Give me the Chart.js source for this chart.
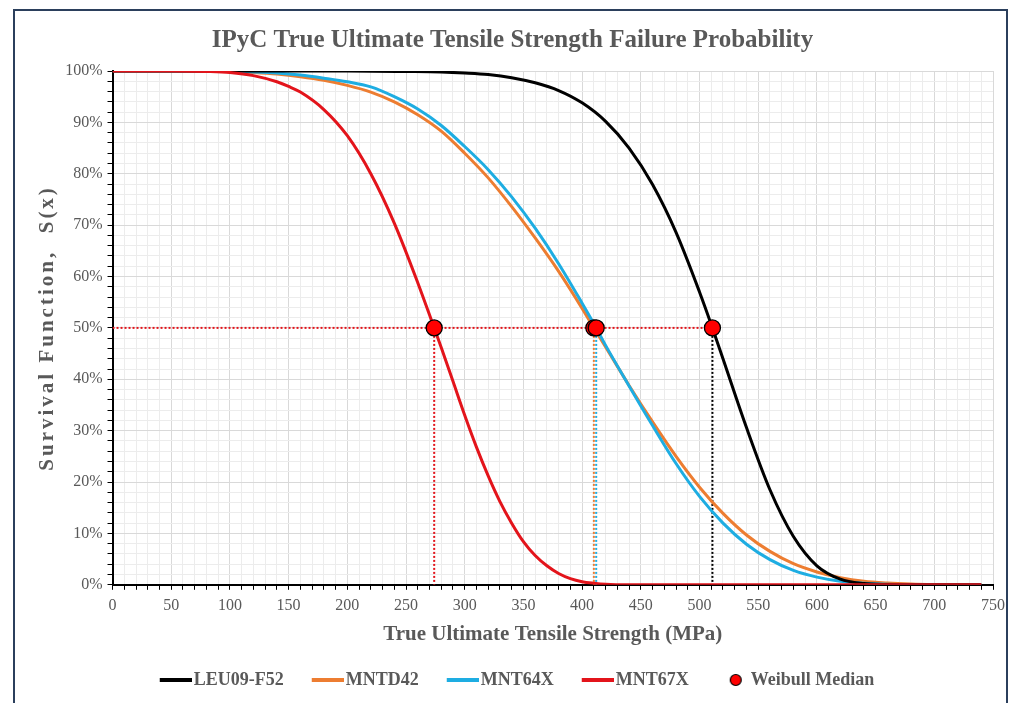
<!DOCTYPE html>
<html>
<head>
<meta charset="utf-8">
<script src="https://cdn.jsdelivr.net/npm/chart.js@4.4.1/dist/chart.umd.min.js"></script>
<style>
  html, body { margin: 0; padding: 0; background: #fff; }
  #wrap { position: relative; width: 1016px; height: 703px; overflow: hidden; background: #fff; }
  #frame { position: absolute; left: 13px; top: 9px; width: 995px; height: 740px; border: 2px solid #2b3f5c; box-sizing: border-box; pointer-events: none; }
  canvas { position: absolute; left: 0; top: 0; }
</style>
</head>
<body>
<div id="wrap">
  <canvas id="chart" width="1016" height="703"></canvas>
  <div id="frame"></div>
</div>
<script>
// values (strength in MPa, survival in %)
const leuX = [0, 100, 200, 250, 280, 300, 320, 340, 360, 380, 400, 420, 440, 460, 480, 500, 511, 520, 540, 560, 580, 600, 620, 640, 660, 680, 700, 740];
const leuS = [100, 100, 100, 99.9, 99.8, 99.6, 99.3, 98.7, 97.7, 96.2, 93.8, 90.2, 85.0, 77.9, 68.6, 57.0, 50, 44.0, 30.6, 18.5, 9.4, 3.7, 1.1, 0.25, 0.04, 0, 0, 0];

const mntd42X = [0, 50, 100, 120, 140, 160, 180, 200, 220, 240, 260, 280, 300, 320, 340, 360, 380, 400, 410, 420, 440, 460, 480, 500, 520, 540, 560, 580, 600, 620, 640, 660, 680, 700, 720, 740];
const mntd42S = [100, 100, 99.9, 99.7, 99.4, 98.9, 98.2, 97.2, 95.9, 94.0, 91.5, 88.3, 84.0, 79.2, 73.6, 67.5, 61.0, 53.8, 50, 46.3, 38.8, 31.7, 25.0, 19.0, 13.9, 9.7, 6.5, 4.1, 2.5, 1.4, 0.7, 0.35, 0.15, 0.05, 0, 0];

const mnt64X = [0, 50, 100, 120, 140, 160, 180, 200, 220, 240, 260, 280, 300, 320, 340, 360, 380, 400, 412, 420, 440, 460, 480, 500, 520, 540, 560, 580, 600, 620, 640, 660, 680, 740];
const mnt64S = [100, 100, 99.9, 99.8, 99.6, 99.2, 98.6, 97.9, 96.9, 95.0, 92.6, 89.4, 85.3, 80.8, 75.5, 69.4, 62.5, 54.8, 50, 46.6, 38.7, 31.0, 23.6, 17.2, 12.0, 7.9, 4.9, 2.8, 1.5, 0.7, 0.3, 0.1, 0, 0];

const mnt67X = [0, 50, 80, 100, 120, 140, 150, 160, 180, 200, 220, 240, 260, 274, 280, 290, 300, 310, 320, 330, 340, 350, 360, 370, 380, 390, 400, 410, 420, 440, 500, 600, 700, 740];
const mnt67S = [100, 100, 99.9, 99.7, 99.1, 97.9, 97.0, 95.9, 92.5, 87.4, 80.0, 70.4, 58.8, 50, 46.2, 39.6, 33.0, 26.8, 21.2, 16.2, 12.0, 8.4, 5.7, 3.7, 2.2, 1.2, 0.6, 0.3, 0.1, 0, 0, 0, 0, 0];

const seriesNames = ['LEU09-F52', 'MNTD42', 'MNT64X', 'MNT67X'];
const seriesColors = ['#000000', '#ED7D31', '#1EADE2', '#E3141B'];
const medianX = [511, 410, 412, 274];
const medianS = [50, 50, 50, 50];

const xTickLabels = [0, 50, 100, 150, 200, 250, 300, 350, 400, 450, 500, 550, 600, 650, 700, 750];
const yTickLabels = [0, 10, 20, 30, 40, 50, 60, 70, 80, 90, 100];

const serif = 'Liberation Serif, Times New Roman, serif';
const textGrey = '#595959';

// legend swatches: the image is centred on the legend box, so the mark sits in its right part
function lineSwatch(color) {
  const c = document.createElement('canvas');
  c.width = 48; c.height = 4;
  const g = c.getContext('2d');
  g.fillStyle = color;
  g.fillRect(16, 0, 32, 4);
  return c;
}

function dotSwatch() {
  const c = document.createElement('canvas');
  c.width = 48; c.height = 14;
  const g = c.getContext('2d');
  g.beginPath();
  g.arc(35, 7, 5.5, 0, Math.PI * 2);
  g.fillStyle = '#FF0000';
  g.fill();
  g.lineWidth = 1.2;
  g.strokeStyle = '#000';
  g.stroke();
  return c;
}

const curveX = [leuX, mntd42X, mnt64X, mnt67X];
const curveS = [leuS, mntd42S, mnt64S, mnt67S];
const drawOrder = [2, 4, 3, 1]; // red on top, blue over orange

const datasets = seriesNames.map((name, i) => ({
  label: name,
  data: curveX[i].map((x, k) => ({ x: x, y: curveS[i][k] })),
  borderColor: seriesColors[i],
  backgroundColor: seriesColors[i],
  borderWidth: 3,
  pointRadius: 0,
  cubicInterpolationMode: 'monotone',
  order: drawOrder[i],
  swatch: lineSwatch(seriesColors[i]),
  inLegend: true
}));

datasets.push({
  label: 'Weibull Median',
  data: medianX.map((x, k) => ({ x: x, y: medianS[k] })),
  showLine: false,
  pointRadius: 8,
  pointHoverRadius: 8,
  pointBackgroundColor: '#FF0000',
  pointBorderColor: '#000000',
  pointBorderWidth: 1.3,
  order: 0,
  swatch: dotSwatch(),
  inLegend: true
});

// dotted guides: across at 50% to the last median, then down from each median
datasets.push({
  label: 'guide',
  data: [{ x: 0, y: medianS[0] }, { x: Math.max(...medianX), y: medianS[0] }],
  borderColor: '#E3141B',
  borderWidth: 2,
  borderDash: [2, 2],
  pointRadius: 0,
  order: 5,
  inLegend: false
});
medianX.forEach((x, i) => {
  datasets.push({
    label: 'guide',
    data: [{ x: x, y: medianS[i] }, { x: x, y: 0 }],
    borderColor: seriesColors[i],
    borderWidth: 2,
    borderDash: [2, 2],
    pointRadius: 0,
    order: 5,
    inLegend: false
  });
});

// the y title in the reference is letter-spaced
const spacedAxisTitle = {
  id: 'spacedAxisTitle',
  beforeDraw(chart) {
    const y = chart.scales.y;
    if (!y || y._spaced) return;
    const orig = y.drawTitle;
    y.drawTitle = function () {
      const c = this.ctx;
      c.save();
      c.letterSpacing = '3px';
      orig.apply(this, arguments);
      c.restore();
    };
    y._spaced = true;
  }
};

new Chart(document.getElementById('chart'), {
  type: 'line',
  data: { datasets: datasets },
  plugins: [spacedAxisTitle],
  options: {
    responsive: false,
    animation: false,
    layout: { padding: { left: 32, right: 23, top: 8, bottom: 4 } },
    scales: {
      x: {
        type: 'linear',
        min: 0,
        max: 750,
        ticks: {
          stepSize: 10,
          autoSkip: false,
          maxRotation: 0,
          padding: 8,
          color: textGrey,
          font: { family: serif, size: 16, lineHeight: 1 },
          callback: v => xTickLabels.includes(v) ? String(v) : ''
        },
        grid: {
          color: ctx => (ctx.tick && ctx.tick.value % 50 === 0) ? '#D9D9D9' : '#ECECEC',
          lineWidth: 1,
          tickColor: '#000',
          tickLength: 5
        },
        border: { color: '#000', width: 2 },
        title: {
          display: true,
          text: 'True Ultimate Tensile Strength (MPa)',
          color: textGrey,
          font: { family: serif, size: 21, weight: 'bold' },
          padding: { top: 0, bottom: 5 }
        }
      },
      y: {
        type: 'linear',
        min: 0,
        max: 100,
        ticks: {
          stepSize: 2,
          autoSkip: false,
          padding: 5,
          color: textGrey,
          font: { family: serif, size: 16 },
          callback: v => yTickLabels.includes(v) ? v + '%' : ''
        },
        grid: {
          color: ctx => (ctx.tick && ctx.tick.value % 10 === 0) ? '#D9D9D9' : '#ECECEC',
          lineWidth: 1,
          tickColor: '#000',
          tickLength: 5
        },
        border: { color: '#000', width: 2 },
        title: {
          display: true,
          text: 'Survival Function,  S(x)',
          color: textGrey,
          font: { family: serif, size: 21, weight: 'bold' },
          padding: { top: 3, bottom: 0 }
        }
      }
    },
    plugins: {
      title: {
        display: true,
        text: 'IPyC True Ultimate Tensile Strength Failure Probability',
        color: textGrey,
        font: { family: serif, size: 25, weight: 'bold' },
        padding: { top: 18, bottom: 15 }
      },
      legend: {
        position: 'bottom',
        labels: {
          usePointStyle: true,
          pointStyleWidth: 34,
          boxHeight: 14,
          padding: 19,
          color: textGrey,
          font: { family: serif, size: 18, weight: 'bold' },
          generateLabels: chart => chart.data.datasets
            .map((ds, i) => ({
              text: ds.label,
              datasetIndex: i,
              pointStyle: ds.swatch,
              fillStyle: '#fff',
              strokeStyle: '#fff',
              lineWidth: 0,
              hidden: false,
              fontColor: textGrey
            }))
            .filter(item => chart.data.datasets[item.datasetIndex].inLegend)
        }
      },
      tooltip: { enabled: false }
    }
  }
});
</script>
</body>
</html>
